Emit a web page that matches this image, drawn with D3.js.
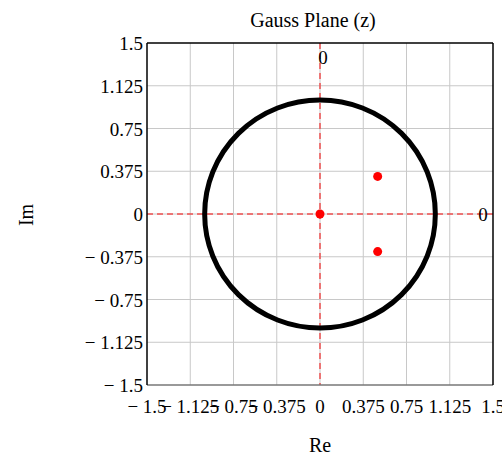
<!DOCTYPE html>
<html><head><meta charset="utf-8">
<script src="https://cdn.jsdelivr.net/npm/d3@7"></script>
<style>body{margin:0;background:#fff}text{font-family:"Liberation Serif","Times New Roman",serif;}</style>
</head><body>
<svg id="c" width="502" height="456"></svg>
<script>
const ticks = [-1.5, -1.125, -0.75, -0.375, 0, 0.375, 0.75, 1.125, 1.5];
const tickLabels = ["\u2212 1.5", "\u2212 1.125", "\u2212 0.75", "\u2212 0.375", "0", "0.375", "0.75", "1.125", "1.5"];
const poleRe = [0, 0.5, 0.5];
const poleIm = [0, 0.33, -0.33];
const circleRadius = [1];

const svg = d3.select("#c");
const L = 147, R = 493, T = 43, B = 385;
const x = d3.scaleLinear().domain([-1.5, 1.5]).range([L, R]);
const y = d3.scaleLinear().domain([-1.5, 1.5]).range([B, T]);

// grid
svg.append("g").selectAll("line").data(ticks.slice(1, -1)).join("line")
  .attr("x1", d => x(d)).attr("x2", d => x(d)).attr("y1", T).attr("y2", B)
  .attr("stroke", "#c8c8c8").attr("stroke-width", 1);
svg.append("g").selectAll("line").data(ticks.slice(1, -1)).join("line")
  .attr("y1", d => y(d)).attr("y2", d => y(d)).attr("x1", L).attr("x2", R)
  .attr("stroke", "#c8c8c8").attr("stroke-width", 1);

// red dashed axes
svg.append("line").attr("x1", x(0)).attr("x2", x(0)).attr("y1", T).attr("y2", B)
  .attr("stroke", "#f05050").attr("stroke-width", 1.5).attr("stroke-dasharray", "6,4");
svg.append("line").attr("x1", L).attr("x2", R).attr("y1", y(0)).attr("y2", y(0))
  .attr("stroke", "#f05050").attr("stroke-width", 1.5).attr("stroke-dasharray", "6,4");

// border
svg.append("line").attr("x1", L).attr("x2", R).attr("y1", B).attr("y2", B).attr("stroke", "#777").attr("stroke-width", 1.5);
svg.append("line").attr("x1", L).attr("x2", R).attr("y1", T).attr("y2", T).attr("stroke", "#000").attr("stroke-width", 1.5);
svg.append("line").attr("x1", L).attr("x2", L).attr("y1", T).attr("y2", B).attr("stroke", "#000").attr("stroke-width", 1.5);
svg.append("line").attr("x1", R).attr("x2", R).attr("y1", T).attr("y2", B).attr("stroke", "#000").attr("stroke-width", 1.5);

svg.append("text").attr("x", x(0) + 3).attr("y", 64).attr("text-anchor", "middle").attr("font-size", 19).text("0");
svg.append("text").attr("x", 483).attr("y", y(0) + 7).attr("text-anchor", "middle").attr("font-size", 19).text("0");

// unit circle
svg.append("g").selectAll("ellipse").data(circleRadius).join("ellipse")
  .attr("cx", x(0)).attr("cy", y(0))
  .attr("rx", d => x(d) - x(0)).attr("ry", d => y(0) - y(d))
  .attr("fill", "none").attr("stroke", "#000").attr("stroke-width", 5);

// poles
svg.append("g").selectAll("circle").data(poleRe).join("circle")
  .attr("cx", d => x(d)).attr("cy", (d, i) => y(poleIm[i])).attr("r", 4.5).attr("fill", "#ff0000");

// tick labels
svg.append("g").selectAll("text").data(ticks).join("text")
  .attr("x", d => x(d)).attr("y", 413).attr("text-anchor", "middle").attr("font-size", 19)
  .text((d, i) => tickLabels[i]);
svg.append("g").selectAll("text").data(ticks).join("text")
  .attr("x", 143).attr("y", d => y(d) + 7).attr("text-anchor", "end").attr("font-size", 19)
  .text((d, i) => tickLabels[i]);

svg.append("text").attr("x", 313).attr("y", 27).attr("text-anchor", "middle").attr("font-size", 20).text("Gauss Plane (z)");
svg.append("text").attr("x", 320).attr("y", 452).attr("text-anchor", "middle").attr("font-size", 20).text("Re");
svg.append("text").attr("transform", "translate(33,215) rotate(-90)").attr("text-anchor", "middle").attr("font-size", 20).text("Im");
</script>
</body></html>
